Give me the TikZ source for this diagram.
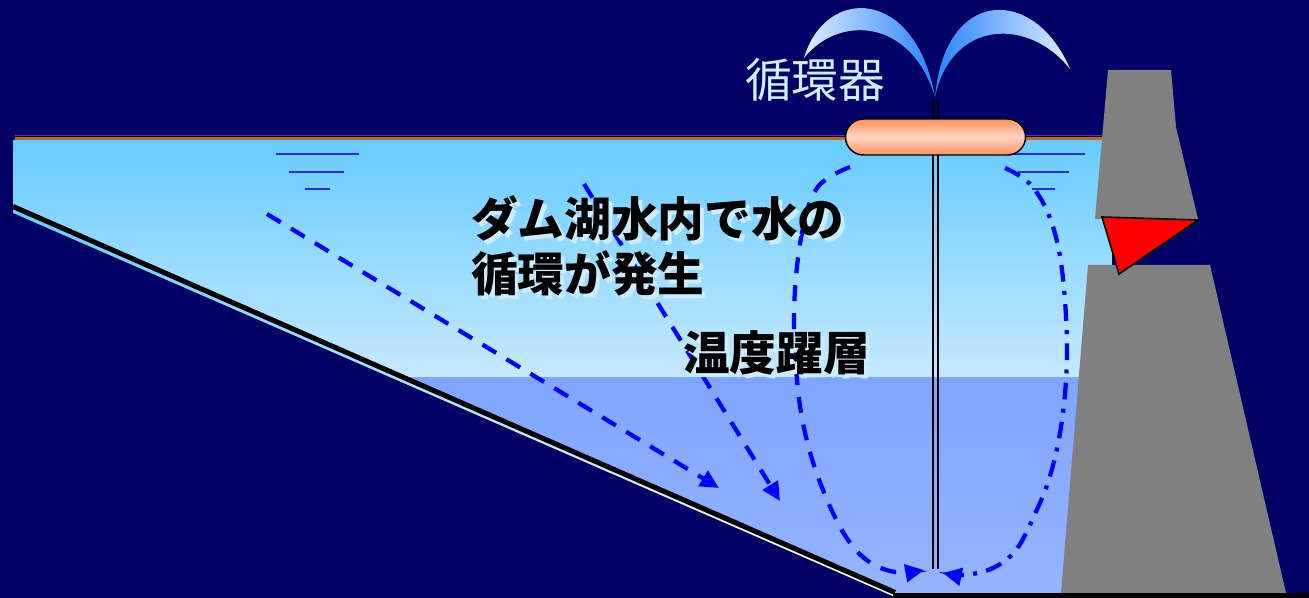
\documentclass[tikz,border=0pt]{standalone}
\usepackage{fontspec}
\newfontfamily\jpfont{Noto Sans CJK JP}
\usetikzlibrary{arrows.meta,shapes.misc}

\definecolor{navy}{RGB}{0,0,102}
\definecolor{waterTop}{RGB}{102,204,255}
\definecolor{waterMid}{RGB}{198,233,255}
\definecolor{deepTop}{RGB}{126,166,255}
\definecolor{deepBot}{RGB}{150,180,255}
\definecolor{flowblue}{RGB}{0,0,255}
\definecolor{hatchblue}{RGB}{40,40,255}
\definecolor{rimblue}{RGB}{68,51,204}
\definecolor{rimorange}{RGB}{204,102,0}
\definecolor{damgray}{RGB}{128,128,128}
\definecolor{buoyedge}{RGB}{255,145,95}
\definecolor{buoymid}{RGB}{255,214,196}
\definecolor{spraylight}{RGB}{222,238,255}
\definecolor{sprayblue}{RGB}{40,130,255}
\definecolor{labelcyan}{RGB}{204,240,255}
\definecolor{shadowblue}{RGB}{204,236,255}

% caption text with a light drop shadow behind it
\newcommand{\shadowed}[1]{\makebox[0pt][l]{\hspace{3pt}\raisebox{-3pt}{\textcolor{shadowblue}{#1}}}#1}

\tikzset{
  captext/.style={anchor=base west, inner sep=0pt,
    font=\jpfont\bfseries\fontsize{35}{42}\selectfont},
  hatch/.style={hatchblue, line width=1.1pt},
  pipeline/.style={black, line width=1.5pt},
  flow/.style={flowblue, line width=3.2pt, dash pattern=on 12pt off 9pt,
    -{Triangle[length=14pt,width=13pt]}},
  flowdot/.style={flowblue, line width=3.2pt, dash pattern=on 12.5pt off 7pt on 3pt off 7pt,
    -{Triangle[length=14pt,width=13pt]}},
  buoy/.style={rounded rectangle, draw=black, line width=1.1pt,
    minimum width=135pt, minimum height=27pt, inner sep=0pt,
    top color=buoyedge, bottom color=buoyedge, middle color=buoymid}
}

\begin{document}
\begin{tikzpicture}[x=0.75pt, y=-0.75pt]
  % canvas
  \useasboundingbox (0,0) rectangle (1309,598);
  \fill[navy] (0,0) rectangle (1309,598);

  % reservoir water: warm upper layer and cold lower layer
  \begin{scope}
    \clip (13,140) -- (1112,140) -- (1112,597) -- (895,597) -- (13,212) -- cycle;
    \fill[top color=waterTop, bottom color=waterMid] (13,139) rectangle (1112,377);
    \fill[top color=deepTop, bottom color=deepBot] (13,377) rectangle (1112,598);
  \end{scope}

  % bank slope with its light rim
  \fill[left color=waterTop, right color=white]
    (13,209) -- (895,594) -- (895,597) -- (13,213) -- cycle;
  \draw[line width=3.8pt] (13,206.5) -- (895,592.5);

  % water surface rim
  \draw[rimblue, line width=1pt] (15,135.5) -- (1102,135.5);
  \draw[rimorange, line width=2pt] (15,138.5) -- (1104,138.5);

  % water level marks
  \draw[hatch] (276,154) -- (359,154);
  \draw[hatch] (289,172) -- (344,172);
  \draw[hatch] (305,189) -- (330,189);
  \draw[hatch] (1008,154) -- (1085,154);
  \draw[hatch] (1018,172) -- (1069,172);
  \draw[hatch] (1032,189) -- (1055,189);

  % dam body
  \fill[damgray] (1108,70) -- (1171,70) -- (1176,127) -- (1198,219) -- (1095,219) -- cycle;
  \fill[damgray] (1088,265) -- (1210,265) -- (1286,593) -- (1061,593) -- cycle;
  \filldraw[fill=red, draw=black, line width=1.2pt, line join=miter]
    (1102,217) -- (1198,220) -- (1119,274) -- cycle;

  % reservoir floor
  \draw[line width=4pt] (893,595.5) -- (1309,595.5);

  % circulator pipe
  \coordinate (pipeTopA) at (932.5,100);
  \coordinate (pipeBotA) at (932.5,569);
  \coordinate (pipeTopB) at (937.5,100);
  \coordinate (pipeBotB) at (937.5,569);
  \draw[pipeline] (pipeTopA) -- (pipeBotA);
  \draw[pipeline] (pipeTopB) -- (pipeBotB);

  % floating circulator
  \node[buoy] (buoy) at (935.5,137) {};

  % spray
  \fill[left color=spraylight, right color=sprayblue]
    (935,97) .. controls (915,-14) and (825,-14) .. (804,58)
    .. controls (837,16) and (910,16) .. (935,97) -- cycle;
  \fill[left color=sprayblue, right color=spraylight]
    (935,97) .. controls (945,-14) and (1035,-14) .. (1070,69)
    .. controls (1030,18) and (952,18) .. (935,97) -- cycle;

  \node[anchor=base west, inner sep=0pt, text=labelcyan,
    font=\jpfont\fontsize{35}{42}\selectfont] (label) at (745,98) {循環器};

  % circulation flows
  \coordinate (f1s) at (267,214);
  \coordinate (f1e) at (719,488);
  \coordinate (f2s) at (584,184);
  \coordinate (f2e) at (780,501);
  \draw[flow] (f1s) -- (f1e);
  \draw[flow] (f2s) -- (f2e);
  \draw[flow] plot[smooth, tension=0.6] coordinates
    {(850,167) (817,188) (801,238) (794,313) (798,390) (808,445) (825,495)
     (846,537) (868,561) (895,572) (924,570)};
  \draw[flowdot] plot[smooth, tension=0.6] coordinates
    {(1005,168) (1030,184) (1050,218) (1062,270) (1067,350) (1062,420)
     (1050,476) (1034,516) (1016,550) (993,568) (965,575) (943,573)};

  % captions
  \node[captext] (cap1) at (471,237) {\shadowed{ダム湖水内で水の}};
  \node[captext] (cap2) at (471,292) {\shadowed{循環が発生}};
  \node[captext] (cap3) at (683,370) {\shadowed{温度躍層}};
\end{tikzpicture}
\end{document}
